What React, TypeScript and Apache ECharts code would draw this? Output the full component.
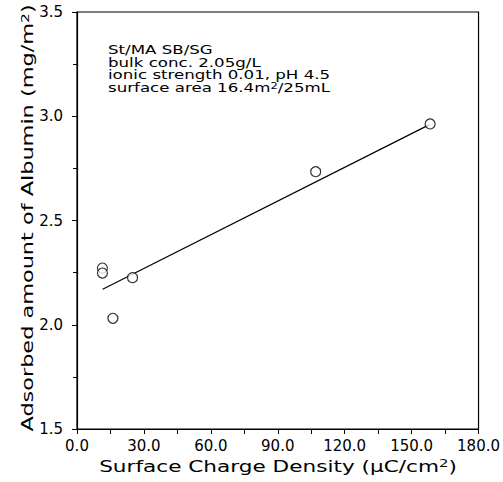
import React, { useEffect, useRef } from "react";
import * as echarts from "echarts";

const xTicks = [0, 30, 60, 90, 120, 150, 180];
const yTicks = [1.5, 2.0, 2.5, 3.0, 3.5];
const chargeDensity = [11.4, 11.4, 16.1, 24.9, 107.0, 158.3];
const albumin = [2.272, 2.248, 2.031, 2.226, 2.734, 2.963];
const fitX = [11.5, 158];
const fitY = [2.17, 2.96];
const notes = [
  "St/MA SB/SG",
  "bulk conc. 2.05g/L",
  "ionic strength 0.01, pH 4.5",
  "surface area 16.4m{sup|2}/25mL",
];
const xName = "Surface Charge Density (μC/cm{sup|2})";
const yName = "Adsorbed amount of Albumin (mg/m{sup|2})";

const FONT = "DejaVu Sans";

export default function App() {
  const ref = useRef<HTMLDivElement>(null);
  useEffect(() => {
    if (!ref.current) return;
    const chart = echarts.init(ref.current, undefined, { renderer: "svg" });
    const scatterData = chargeDensity.map((x, i) => [x, albumin[i]]);
    const lineData = fitX.map((x, i) => [x, fitY[i]]);
    const supRich = (fs: number, pad: number) => ({
      sup: { fontSize: fs, verticalAlign: "top", padding: [0, 0, pad, 0], lineHeight: fs, fontFamily: FONT, fill: "#000", color: "#000" },
    });
    chart.setOption({
      animation: false,
      backgroundColor: "#fff",
      textStyle: { fontFamily: FONT, color: "#000" },
      grid: {
        left: 77,
        right: 19,
        top: 12,
        bottom: 53,
        show: true,
        borderColor: "#000",
        borderWidth: 1.2,
      },
      xAxis: {
        type: "value",
        min: xTicks[0],
        max: xTicks[xTicks.length - 1],
        interval: 30,
        axisLine: { show: true, lineStyle: { color: "#000", width: 1.2 } },
        axisTick: { show: true, inside: false, length: 5, lineStyle: { color: "#000" } },
        minorTick: { show: true, splitNumber: 2, length: 5, lineStyle: { color: "#000" } },
        splitLine: { show: false },
        axisLabel: {
          margin: 9,
          fontFamily: FONT,
          fontSize: 15,
          color: "#000",
          formatter: (v: number) => v.toFixed(1),
        },
      },
      yAxis: {
        type: "value",
        min: yTicks[0],
        max: yTicks[yTicks.length - 1],
        interval: 0.5,
        axisLine: { show: true, lineStyle: { color: "#000", width: 1.2 } },
        axisTick: { show: true, inside: false, length: 5, lineStyle: { color: "#000" } },
        minorTick: { show: true, splitNumber: 2, length: 4, lineStyle: { color: "#000" } },
        splitLine: { show: false },
        axisLabel: {
          margin: 14,
          fontFamily: FONT,
          fontSize: 15,
          color: "#000",
          formatter: (v: number) => v.toFixed(1),
        },
      },
      graphic: [
        ...notes.map((t, i) => ({
          type: "text",
          x: 108,
          y: 50 + i * 12.5,
          scaleX: 1.28,
          style: {
            text: t,
            fontFamily: FONT,
            fontSize: 13,
            lineHeight: 13,
            fill: "#000",
            align: "left",
            verticalAlign: "middle",
            rich: supRich(9, 5),
          },
        })),
        {
          type: "text",
          x: 278,
          y: 466,
          scaleX: 1.35,
          style: {
            text: xName,
            fontFamily: FONT,
            fontSize: 16,
            lineHeight: 16,
            fill: "#000",
            align: "center",
            verticalAlign: "middle",
            rich: supRich(11, 6),
          },
        },
        {
          type: "text",
          x: 28,
          y: 218,
          rotation: Math.PI / 2,
          scaleX: 1.4,
          style: {
            text: yName,
            fontFamily: FONT,
            fontSize: 16,
            lineHeight: 16,
            fill: "#000",
            align: "center",
            verticalAlign: "middle",
            rich: supRich(11, 6),
          },
        },
      ],
      series: [
        {
          type: "line",
          data: lineData,
          showSymbol: false,
          symbol: "none",
          lineStyle: { color: "#000", width: 1.2 },
          silent: true,
        },
        {
          type: "scatter",
          data: scatterData,
          symbol: "circle",
          symbolSize: 10,
          itemStyle: { color: "#fff", borderColor: "#000", borderWidth: 1.2 },
          z: 3,
        },
      ],
    });
    return () => chart.dispose();
  }, []);
  return <div ref={ref} style={{ position: "fixed", left: 0, top: 0, width: 503, height: 482 }} />;
}
